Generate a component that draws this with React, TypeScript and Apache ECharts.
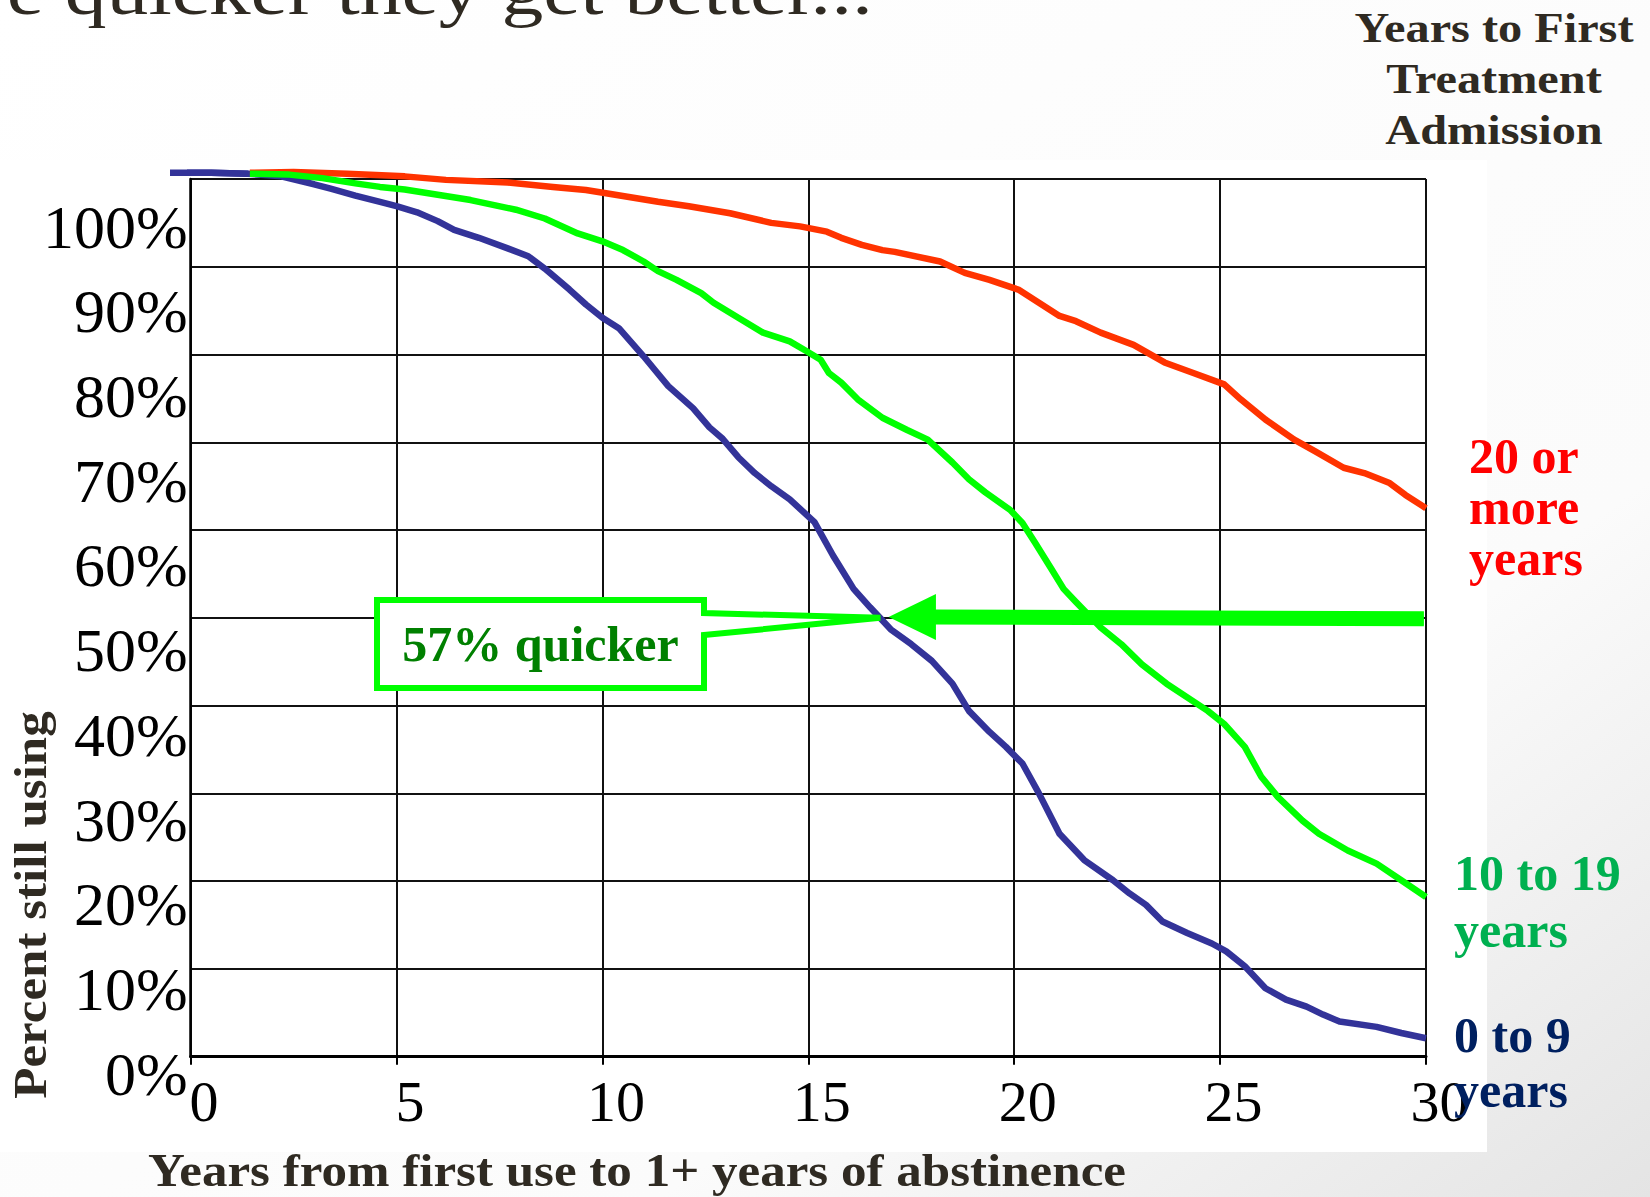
import React, { useEffect, useRef } from "react";
import * as echarts from "echarts";

// ---------- data ----------
const xTicks = [0, 5, 10, 15, 20, 25, 30];
const yTicks = [0, 10, 20, 30, 40, 50, 60, 70, 80, 90, 100];

const seriesNames = ["0 to 9 years", "20 or more years", "10 to 19 years"];

// years from first use, percent still using
const blueData: number[][] = [
  [-0.5, 100.7], [0.5, 100.7], [1.4, 100.6], [2.2, 100.3], [3.0, 99.4], [3.4, 98.9],
  [4.0, 98.1], [4.6, 97.4], [5.0, 96.9], [5.5, 96.2], [6.0, 95.2], [6.4, 94.2],
  [7.0, 93.3], [7.7, 92.1], [8.2, 91.2], [8.6, 89.8], [9.2, 87.4], [9.6, 85.7],
  [10.0, 84.2], [10.4, 83.0], [11.0, 79.8], [11.3, 78.1], [11.6, 76.4], [12.2, 73.9],
  [12.6, 71.7], [12.9, 70.5], [13.3, 68.3], [13.7, 66.5], [14.1, 65.0], [14.55, 63.5],
  [15.15, 60.9], [15.6, 57.1], [16.1, 53.3], [16.5, 51.2], [16.7, 50.2], [17.0, 48.7],
  [17.5, 47.0], [18.0, 45.1], [18.5, 42.5], [18.9, 39.4], [19.4, 37.0], [19.8, 35.3],
  [20.2, 33.4], [20.6, 30.0], [21.1, 25.4], [21.7, 22.4], [22.4, 20.1], [22.8, 18.6],
  [23.2, 17.3], [23.6, 15.4], [24.2, 14.1], [24.8, 12.9], [25.15, 12.0], [25.6, 10.3],
  [26.1, 7.8], [26.6, 6.5], [27.1, 5.7], [27.5, 4.8], [27.9, 4.0], [28.8, 3.4],
  [29.4, 2.7], [30.0, 2.1],
];

const redData: number[][] = [
  [1.44, 100.7], [2.5, 100.8], [3.8, 100.6], [5.2, 100.3], [6.2, 99.9], [7.7, 99.6],
  [8.8, 99.1], [9.6, 98.75], [10.2, 98.3], [11.35, 97.4], [12.1, 96.9], [13.1, 96.1],
  [14.1, 95.0], [14.8, 94.6], [15.45, 94.0], [15.8, 93.3], [16.3, 92.5], [16.8, 91.9],
  [17.1, 91.7], [18.2, 90.6], [18.8, 89.3], [19.4, 88.5], [20.1, 87.4], [20.6, 85.9],
  [21.1, 84.4], [21.5, 83.8], [22.1, 82.5], [22.9, 81.1], [23.65, 79.1], [24.35, 77.9],
  [25.1, 76.6], [25.5, 74.9], [26.1, 72.6], [26.8, 70.3], [27.3, 69.0], [28.0, 67.1],
  [28.5, 66.5], [29.1, 65.4], [29.5, 64.0], [30.0, 62.5],
];

const greenData: number[][] = [
  [1.44, 100.6], [2.4, 100.5], [3.2, 100.1], [4.0, 99.5], [4.6, 99.1], [5.2, 98.8],
  [6.0, 98.2], [6.8, 97.6], [7.4, 97.0], [7.9, 96.5], [8.6, 95.5], [9.4, 93.8],
  [10.0, 92.9], [10.5, 91.9], [11.0, 90.6], [11.35, 89.5], [11.8, 88.5], [12.4, 87.0],
  [12.7, 85.9], [13.3, 84.2], [13.9, 82.5], [14.55, 81.5], [14.95, 80.4], [15.3, 79.4],
  [15.5, 77.9], [15.8, 76.8], [16.2, 74.9], [16.8, 72.8], [17.4, 71.4], [17.9, 70.3],
  [18.5, 67.7], [18.9, 65.8], [19.3, 64.3], [19.9, 62.3], [20.2, 60.8], [20.5, 58.6],
  [20.9, 55.6], [21.2, 53.3], [21.5, 51.8], [22.1, 48.9], [22.6, 47.0], [23.1, 44.7],
  [23.7, 42.5], [24.7, 39.4], [25.1, 37.9], [25.6, 35.3], [26.0, 31.9], [26.4, 29.6],
  [27.0, 26.9], [27.4, 25.4], [28.1, 23.5], [28.8, 22.0], [29.4, 20.1], [30.0, 18.2],
];

const headline = "e quicker they get better...";
const legendTitle = ["Years to First", "Treatment", "Admission"];
const redLabel = ["20 or", "more", "years"];
const greenLabel = ["10 to 19", "years"];
const navyLabel = ["0 to 9", "years"];
const calloutText = "57% quicker";
const xTitle = "Years from first use to 1+ years of abstinence";
const yTitle = "Percent still using";

// annotation anchors in data units
const crossingPoint = [16.75, 50.0];
const arrowTip = [16.95, 50.1];
const arrowBase = [18.1, 50.1];
const arrowEnd = [29.95, 49.9];

const SERIF = "'Liberation Serif', 'Times New Roman', serif";
const DARK = "#2f2a22";
const BLUE = "#333399";
const RED = "#ff3300";
const GREEN = "#00ff00";
const LINE_W = 6.5;

export default function App() {
  const ref = useRef<HTMLDivElement>(null);

  useEffect(() => {
    if (!ref.current) return;
    const chart = echarts.init(ref.current, undefined, { renderer: "svg" });

    // y labels sit a little below their grid lines, more so toward the top:
    // an invisible spacer line above a very short text line shifts each label down.
    const LH = 4;
    const yRich: Record<string, any> = {
      t: { fontFamily: SERIF, fontSize: 62, lineHeight: LH, color: "#000" },
    };
    yTicks.forEach((v) => {
      const off = 17 + 3.05 * (v / 10);
      yRich["s" + v] = { fontSize: 1, lineHeight: Math.max(1, off - LH / 2), color: "rgba(0,0,0,0)" };
    });

    const lineSeries = (name: string, data: number[][], color: string) => ({
      name,
      type: "line",
      data,
      symbol: "none",
      showSymbol: false,
      clip: false,
      smooth: false,
      lineStyle: { color, width: LINE_W, cap: "butt", join: "round" },
      itemStyle: { color },
      z: 3,
    });

    chart.setOption({
      animation: false,
      backgroundColor: "#ffffff",
      grid: { left: 190.6, right: 224, top: 179, bottom: 140.3, containLabel: false },
      xAxis: {
        type: "value",
        min: xTicks[0],
        max: xTicks[xTicks.length - 1],
        interval: 5,
        axisLine: { show: true, onZero: false, lineStyle: { color: "#000", width: 3 } },
        axisTick: { show: true, length: 8, lineStyle: { color: "#000", width: 2 } },
        splitLine: { show: true, lineStyle: { color: "#111", width: 2 } },
        axisLabel: {
          color: "#000",
          fontFamily: SERIF,
          fontSize: 58,
          lineHeight: 58,
          margin: 16,
          padding: [0, 0, 0, 27],
          showMinLabel: true,
          showMaxLabel: true,
          formatter: (v: number) => String(Math.round(v)),
        },
      },
      yAxis: {
        type: "value",
        min: yTicks[0],
        max: yTicks[yTicks.length - 1],
        interval: 10,
        axisLine: { show: true, lineStyle: { color: "#000", width: 2.5 } },
        axisTick: { show: false },
        splitLine: { show: true, lineStyle: { color: "#111", width: 2 } },
        axisLabel: {
          margin: 3,
          verticalAlign: "top",
          showMinLabel: true,
          showMaxLabel: true,
          hideOverlap: false,
          formatter: (v: number) => {
            const r = Math.round(v);
            return `{s${r}| }\n{t|${r}%}`;
          },
          rich: yRich,
        },
      },
      series: [
        lineSeries(seriesNames[0], blueData, BLUE),
        lineSeries(seriesNames[1], redData, RED),
        lineSeries(seriesNames[2], greenData, GREEN),
      ],
    });

    const px = (p: number[]) => chart.convertToPixel({ gridIndex: 0 }, p) as number[];
    const tip = px(crossingPoint);
    const aTip = px(arrowTip);
    const aBase = px(arrowBase);
    const aEnd = px(arrowEnd);
    // part of the 0-9 curve that lies left of the y axis
    const blueStub = blueData.filter((d) => d[0] <= 1.5).map(px);

    const boxL = 377, boxR = 704, boxT = 600, boxB = 688;

    const text = (
      t: string,
      x: number,
      y: number,
      opts: { size: number; color: string; bold?: boolean; align?: string; scaleX?: number; rotation?: number; family?: string; z?: number }
    ) => ({
      type: "text",
      x,
      y,
      rotation: opts.rotation || 0,
      scaleX: opts.scaleX || 1,
      z: opts.z ?? 20,
      style: {
        text: t,
        fill: opts.color,
        fontFamily: opts.family || SERIF,
        fontSize: opts.size,
        fontWeight: opts.bold ? "bold" : "normal",
        align: opts.align || "left",
        textAlign: opts.align || "left",
        verticalAlign: "middle",
        textVerticalAlign: "middle",
      },
    });

    const graphics: any[] = [
      // slide background gradient on the right
      {
        type: "rect",
        z: -10,
        silent: true,
        shape: { x: 0, y: 0, width: 1650, height: 1197 },
        style: {
          fill: new echarts.graphic.LinearGradient(0, 0, 1, 1, [
            { offset: 0, color: "#ffffff" },
            { offset: 0.7, color: "#fbfbfb" },
            { offset: 1, color: "#e4e4e4" },
          ]),
        },
      },
      {
        type: "rect",
        z: -9,
        silent: true,
        shape: { x: 0, y: 160, width: 1487, height: 992 },
        style: { fill: "#ffffff" },
      },
      // 0-9 curve start, left of the axis
      {
        type: "polyline",
        z: 2,
        silent: true,
        shape: { points: blueStub },
        style: { stroke: BLUE, lineWidth: LINE_W, fill: "none", lineJoin: "round" },
      },
      // headline (cut at the top)
      text(headline, 873, -9, { size: 68, color: DARK, align: "right", scaleX: 1.23 }),
      // legend title
      ...legendTitle.map((t, i) => text(t, 1494, 28 + i * 51, { size: 42, color: DARK, bold: true, align: "center", scaleX: 1.15 })),
      // series labels
      ...redLabel.map((t, i) => text(t, 1469, 456 + i * 51, { size: 50, color: "#ff0000", bold: true })),
      ...greenLabel.map((t, i) => text(t, 1454, 873 + i * 57, { size: 50, color: "#00b050", bold: true })),
      ...navyLabel.map((t, i) => text(t, 1454, 1035 + i * 55, { size: 50, color: "#002060", bold: true })),
      // axis titles
      text(xTitle, 637, 1171, { size: 46, color: DARK, bold: true, align: "center", scaleX: 1.11 }),
      text(yTitle, 31, 905, { size: 46, color: DARK, bold: true, align: "center", scaleX: 1.11, rotation: Math.PI / 2 }),
      // callout box with pointer
      {
        type: "polygon",
        z: 15,
        shape: {
          points: [
            [boxL, boxT], [boxR, boxT], [boxR, boxT + 13], [tip[0], tip[1]],
            [boxR, boxT + 35], [boxR, boxB], [boxL, boxB],
          ],
        },
        style: { fill: "#ffffff", stroke: GREEN, lineWidth: 6, lineJoin: "miter" },
      },
      text(calloutText, (boxL + boxR) / 2, 644, { size: 50, color: "#008000", bold: true, align: "center", z: 16 }),
      // big arrow
      {
        type: "line",
        z: 15,
        shape: { x1: aBase[0] - 2, y1: aBase[1], x2: aEnd[0], y2: aEnd[1] },
        style: { stroke: GREEN, lineWidth: 15 },
      },
      {
        type: "polygon",
        z: 15,
        shape: { points: [[aTip[0], aTip[1]], [aBase[0], aBase[1] - 23], [aBase[0], aBase[1] + 23]] },
        style: { fill: GREEN },
      },
    ];

    chart.setOption({ graphic: graphics });

    return () => chart.dispose();
  }, []);

  return (
    <div
      ref={ref}
      style={{ position: "absolute", left: 0, top: 0, width: 1650, height: 1197 }}
    />
  );
}
